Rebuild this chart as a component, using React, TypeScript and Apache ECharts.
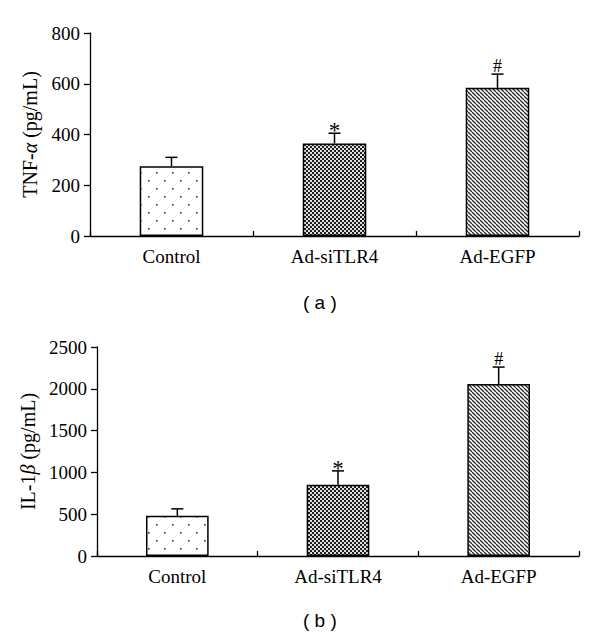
import React, { useEffect, useRef } from 'react';
import * as echarts from 'echarts';

const categories = ['Control', 'Ad-siTLR4', 'Ad-EGFP'];
const tnfMeans = [275, 365, 584];
const tnfErrors = [35, 40, 54];
const il1Means = [480, 852, 2058];
const il1Errors = [84, 166, 202];
const markers = ['', '*', '#'];
const tnfAxis = { min: 0, max: 800, interval: 200 };
const il1Axis = { min: 0, max: 2500, interval: 500 };
const captions = ['( a )', '( b )'];

const SERIF = '"Liberation Serif", "Times New Roman", serif';
const SANS = '"Liberation Sans", Arial, sans-serif';

function makeCanvas(size: number) {
  const c = document.createElement('canvas');
  c.width = size;
  c.height = size;
  const ctx = c.getContext('2d') as CanvasRenderingContext2D;
  return { c, ctx };
}

function dotPattern() {
  const { c, ctx } = makeCanvas(16);
  ctx.fillStyle = '#ffffff';
  ctx.fillRect(0, 0, 16, 16);
  ctx.fillStyle = '#333333';
  ctx.fillRect(4, 4, 1.6, 1.6);
  ctx.fillRect(12, 12, 1.6, 1.6);
  return { image: c, repeat: 'repeat', imageWidth: 16, imageHeight: 16 };
}

function checkPattern() {
  const { c, ctx } = makeCanvas(4);
  ctx.fillStyle = '#e0e0e0';
  ctx.fillRect(0, 0, 4, 4);
  ctx.fillStyle = '#1e1e1e';
  ctx.fillRect(0, 0, 2, 2);
  ctx.fillRect(2, 2, 2, 2);
  return { image: c, repeat: 'repeat', imageWidth: 4, imageHeight: 4 };
}

function diagPattern() {
  const s = 4;
  const { c, ctx } = makeCanvas(s);
  ctx.fillStyle = '#ffffff';
  ctx.fillRect(0, 0, s, s);
  ctx.strokeStyle = '#2a2a2a';
  ctx.lineWidth = 1.3;
  for (const x0 of [-s, 0, s]) {
    ctx.beginPath();
    ctx.moveTo(x0, 0);
    ctx.lineTo(x0 + s, s);
    ctx.stroke();
  }
  return { image: c, repeat: 'repeat', imageWidth: s, imageHeight: s };
}

export default function App() {
  const ref = useRef<HTMLDivElement>(null);

  useEffect(() => {
    if (!ref.current) return;
    const chart = echarts.init(ref.current, null, { renderer: 'svg' });
    const patterns = [dotPattern(), checkPattern(), diagPattern()];

    const grids = [
      { left: 90, right: 21, top: 33, height: 203 },
      { left: 97, right: 21, top: 347, height: 209 },
    ];

    const axisLine = { show: true, lineStyle: { color: '#000', width: 1.3 } };

    const xAxes = grids.map((_, i) => ({
      type: 'category',
      gridIndex: i,
      data: categories,
      axisLine,
      axisTick: { show: true, inside: true, length: 5, lineStyle: { color: '#000', width: 1.3 } },
      axisLabel: { margin: 11, color: '#000', fontFamily: SERIF, fontSize: 19 },
      splitLine: { show: false },
    }));

    const yNames = ['TNF-{i|α} (pg/mL)', 'IL-1{i|β} (pg/mL)'];
    const yRanges = [tnfAxis, il1Axis];
    const yGaps = [50, 57];
    const yAxes = grids.map((_, i) => ({
      type: 'value',
      gridIndex: i,
      min: yRanges[i].min,
      max: yRanges[i].max,
      interval: yRanges[i].interval,
      name: yNames[i],
      nameLocation: 'middle',
      nameGap: yGaps[i],
      nameTextStyle: {
        color: '#000',
        fontFamily: SERIF,
        fontSize: 20,
        rich: { i: { fontStyle: 'italic', fontFamily: SERIF, fontSize: 20, color: '#000' } },
      },
      axisLine,
      axisTick: { show: true, inside: false, length: 6, lineStyle: { color: '#000', width: 1.3 } },
      axisLabel: {
        margin: 10,
        color: '#000',
        fontFamily: SERIF,
        fontSize: 19,
        formatter: (v: number) => String(v),
      },
      splitLine: { show: false },
    }));

    const meanSets = [tnfMeans, il1Means];
    const errSets = [tnfErrors, il1Errors];

    const series: any[] = [];
    meanSets.forEach((means, g) => {
      series.push({
        type: 'bar',
        xAxisIndex: g,
        yAxisIndex: g,
        barWidth: '39%',
        data: means.map((v, i) => ({
          value: v,
          itemStyle: { color: patterns[i], borderColor: '#000', borderWidth: 1.5 },
        })),
        z: 2,
      });
      series.push({
        type: 'custom',
        xAxisIndex: g,
        yAxisIndex: g,
        z: 3,
        encode: { x: 0, y: 1 },
        data: means.map((v, i) => [i, v, errSets[g][i]]),
        renderItem: (params: any, api: any) => {
          const idx = api.value(0);
          const mean = api.value(1);
          const err = api.value(2);
          const base = api.coord([idx, mean]);
          const top = api.coord([idx, mean + err]);
          const cap = 6;
          const mk = markers[params.dataIndex];
          const children: any[] = [
            {
              type: 'line',
              shape: { x1: base[0], y1: base[1], x2: top[0], y2: top[1] },
              style: { stroke: '#000', lineWidth: 1.5 },
            },
            {
              type: 'line',
              shape: { x1: top[0] - cap, y1: top[1], x2: top[0] + cap, y2: top[1] },
              style: { stroke: '#000', lineWidth: 1.5 },
            },
          ];
          if (mk) {
            const isStar = mk === '*';
            children.push({
              type: 'text',
              x: top[0],
              y: isStar ? top[1] + 9 : top[1] + 1,
              style: {
                text: mk,
                fill: '#000',
                font: `${isStar ? 23 : 18}px ${SERIF}`,
                textAlign: 'center',
                textVerticalAlign: 'bottom',
              },
            });
          }
          return { type: 'group', children };
        },
      });
    });

    chart.setOption({
      animation: false,
      backgroundColor: '#fff',
      grid: grids,
      xAxis: xAxes,
      yAxis: yAxes,
      series,
      graphic: [
        {
          type: 'text',
          left: 303,
          top: 293,
          style: { text: captions[0], fill: '#000', font: `19px ${SANS}` },
        },
        {
          type: 'text',
          left: 303,
          top: 611,
          style: { text: captions[1], fill: '#000', font: `19px ${SANS}` },
        },
      ],
    });

    return () => chart.dispose();
  }, []);

  return (
    <div
      ref={ref}
      style={{ position: 'absolute', left: 0, top: 0, width: 600, height: 637 }}
    />
  );
}
